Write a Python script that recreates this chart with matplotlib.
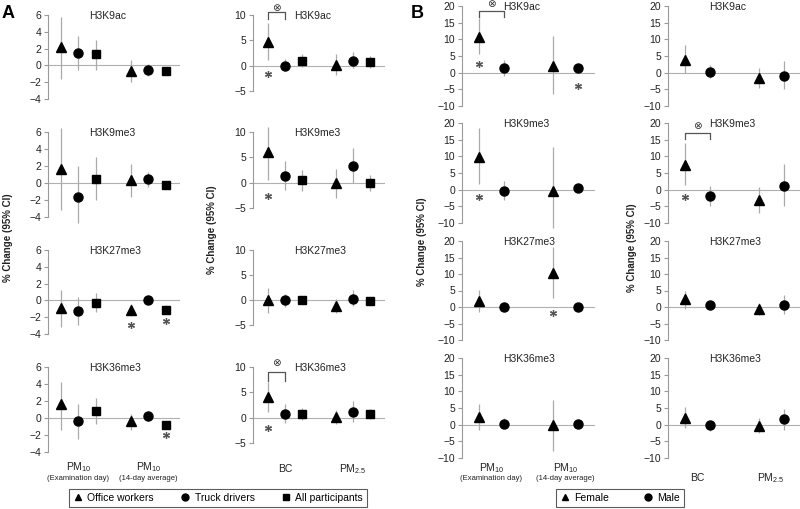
import numpy as np
import matplotlib
matplotlib.use("Agg")
from matplotlib import pyplot as plt
from matplotlib.lines import Line2D

plt.rcParams['font.family'] = ['Liberation Sans', 'DejaVu Sans']
plt.rcParams['mathtext.fontset'] = 'custom'
plt.rcParams['mathtext.rm'] = 'Liberation Sans'
plt.rcParams['mathtext.it'] = 'Liberation Sans:italic'
plt.rcParams['mathtext.default'] = 'regular'

histones = ['H3K9ac', 'H3K9me3', 'H3K27me3', 'H3K36me3']

# Panel A: office workers, truck drivers, all participants (exam day, then 14-day average)
a_pm10_est = [[2.2, 1.5, 1.3, -0.7, -0.5, -0.7],
              [1.6, -1.7, 0.5, 0.3, 0.5, -0.2],
              [-0.9, -1.3, -0.3, -1.2, 0.0, -1.1],
              [1.7, -0.4, 0.8, -0.4, 0.2, -0.8]]
a_pm10_lo = [[-1.6, -0.5, -0.5, -2.0, -1.3, -1.1],
             [-3.2, -4.7, -2.0, -1.7, -0.5, -0.5],
             [-3.2, -2.9, -1.4, -1.9, -0.3, -1.6],
             [-1.4, -2.5, -0.7, -1.4, -0.4, -1.3]]
a_pm10_hi = [[5.8, 3.5, 3.0, 0.6, 0.2, -0.3],
             [6.5, 2.0, 3.1, 2.2, 1.3, 0.1],
             [1.2, 0.4, 0.9, -0.4, 0.3, -0.6],
             [4.2, 1.7, 2.3, 0.5, 0.8, -0.3]]

# Panel A: BC, then PM2.5
a_bc_est = [[4.7, 0.0, 1.0, 0.2, 0.9, 0.7],
            [6.0, 1.4, 0.5, -0.1, 3.2, 0.0],
            [0.0, 0.0, 0.0, -1.1, 0.3, -0.2],
            [4.1, 0.8, 0.8, 0.2, 1.2, 0.8]]
a_bc_lo = [[1.1, -1.0, -0.2, -1.8, -0.5, -0.5],
           [0.5, -1.5, -1.6, -3.0, 0.0, -1.6],
           [-2.5, -1.3, -0.5, -2.5, -1.2, -0.6],
           [1.2, -1.0, -0.5, -1.2, -0.8, -0.3]]
a_bc_hi = [[8.4, 1.4, 2.3, 2.4, 2.6, 1.9],
           [11.0, 4.3, 2.5, 2.7, 6.9, 1.6],
           [2.5, 1.3, 0.5, 0.3, 2.0, 0.2],
           [7.0, 2.7, 1.9, 1.5, 3.3, 1.8]]

# Panel B: female, male (exam day, then 14-day average)
b_pm10_est = [[10.8, 1.3, 2.0, 1.5],
              [9.8, -0.4, -0.5, 0.4],
              [1.8, 0.0, 10.2, 0.0],
              [2.3, 0.3, -0.2, 0.3]]
b_pm10_lo = [[5.7, -1.0, -6.5, 0.5],
             [1.8, -3.0, -11.5, -0.5],
             [-1.5, -0.5, 2.8, -0.5],
             [-1.6, -1.0, -7.8, -0.3]]
b_pm10_hi = [[16.3, 3.8, 11.0, 2.5],
             [18.4, 2.7, 12.9, 1.2],
             [5.3, 0.5, 18.2, 0.5],
             [6.2, 2.0, 7.3, 0.9]]

# Panel B: BC, then PM2.5
b_bc_est = [[3.9, 0.1, -1.5, -0.9],
            [7.5, -2.0, -3.0, 1.0],
            [2.3, 0.7, -0.5, 0.5],
            [2.0, -0.2, -0.3, 1.7]]
b_bc_lo = [[0.0, -1.5, -4.5, -5.0],
           [1.5, -5.0, -7.0, -5.0],
           [-0.5, -1.0, -2.5, -2.0],
           [-1.0, -1.8, -2.5, -1.5]]
b_bc_hi = [[8.2, 2.3, 1.5, 3.5],
           [14.0, 1.2, 0.8, 7.8],
           [4.8, 2.2, 1.2, 3.5],
           [5.2, 0.8, 2.0, 4.7]]

# significance marks: (column, histone, point, y)
stars = [(0, 2, 3, -2.9), (0, 2, 5, -2.4), (0, 3, 5, -2.0),
         (1, 0, 0, -1.6), (1, 1, 0, -2.6), (1, 3, 0, -2.0),
         (2, 0, 0, 2.7), (2, 0, 3, -4.1), (2, 1, 0, -2.2), (2, 2, 2, -1.8),
         (3, 1, 0, -2.2)]
# interaction brackets: (column, histone, bottom, top, symbol y)
brackets = [(1, 0, 9.2, 10.5, 11.4), (1, 3, 7.2, 9.0, 10.8),
            (2, 0, 16.8, 18.5, 20.6), (3, 1, 15.1, 16.9, 19.2)]

a_xpos = [1, 2, 3, 5, 6, 7]
b_xpos = [1, 2, 4, 5]
a_markers = ['^', 'o', 's', '^', 'o', 's']
b_markers = ['^', 'o', '^', 'o']

W, H = 800, 509
fig = plt.figure(figsize=(W / 100, H / 100), dpi=100)

cols = [
    dict(x0=48, x1=180, tops=[15, 132, 250, 367], bots=[99, 217, 334, 452], ylim=(-4, 6),
         ticks=np.arange(-4, 7, 2), est=a_pm10_est, lo=a_pm10_lo, hi=a_pm10_hi,
         xpos=a_xpos, mk=a_markers, xlim=(0.26, 7.8), ylab_x=8, ylab_y=238),
    dict(x0=253, x1=385, tops=[15, 132, 250, 367], bots=[91, 208, 325, 443], ylim=(-5, 10),
         ticks=np.arange(-5, 11, 5), est=a_bc_est, lo=a_bc_lo, hi=a_bc_hi,
         xpos=a_xpos, mk=a_markers, xlim=(0.12, 7.88), ylab_x=212, ylab_y=230),
    dict(x0=462, x1=595, tops=[6, 123, 241, 358], bots=[106, 223, 340, 458], ylim=(-10, 20),
         ticks=np.arange(-10, 21, 5), est=b_pm10_est, lo=b_pm10_lo, hi=b_pm10_hi,
         xpos=b_xpos, mk=b_markers, xlim=(0.31, 5.7), ylab_x=422, ylab_y=242),
    dict(x0=668, x1=802, tops=[6, 123, 241, 358], bots=[106, 223, 340, 458], ylim=(-10, 20),
         ticks=np.arange(-10, 21, 5), est=b_bc_est, lo=b_bc_lo, hi=b_bc_hi,
         xpos=b_xpos, mk=b_markers, xlim=(0.31, 5.75), ylab_x=632, ylab_y=248),
]

grey = '#9a9a9a'
axes = {}
for c, col in enumerate(cols):
    for h, name in enumerate(histones):
        top, bot = col['tops'][h], col['bots'][h]
        ax = fig.add_axes([col['x0'] / W, 1 - bot / H, (col['x1'] - col['x0']) / W, (bot - top) / H])
        axes[(c, h)] = ax
        ax.set_xlim(col['xlim'])
        ax.set_ylim(col['ylim'])
        ax.set_yticks(col['ticks'])
        ax.set_xticks([])
        for s in ['top', 'right', 'bottom']:
            ax.spines[s].set_visible(False)
        ax.spines['left'].set_color(grey)
        ax.spines['left'].set_linewidth(0.8)
        ax.tick_params(axis='y', length=3, width=0.8, color=grey, labelsize=7.5,
                       labelcolor='#222222', pad=2)
        ax.patch.set_alpha(0)
        ax.axhline(0, color='#b0b0b0', lw=0.8, zorder=0)
        xs = col['xpos']
        ax.vlines(xs, col['lo'][h], col['hi'][h], color='#aaaaaa', lw=0.9, clip_on=False, zorder=1)
        for x, y, m in zip(xs, col['est'][h], col['mk']):
            ms = 6 if m == 's' else 6.5
            ax.plot(x, y, marker=m, color='black', ms=ms, ls='none', zorder=3, clip_on=False)
        ax.text(0.31, 0.99, name, transform=ax.transAxes, ha='left', va='center',
                fontsize=7.5, color='#222222')
    fig.text(col['ylab_x'] / W, 1 - col['ylab_y'] / H, '% Change (95% CI)', rotation=90,
             ha='center', va='center', fontsize=7, fontweight='bold', color='#222222')

for c, h, p, y in stars:
    ax = axes[(c, h)]
    ax.plot(cols[c]['xpos'][p], y, marker=(6, 2, 0), ms=5, mew=0.9, color='#555555',
            ls='none', clip_on=False)

for c, h, yb, yt, ys in brackets:
    ax = axes[(c, h)]
    xa, xb = cols[c]['xpos'][0], cols[c]['xpos'][1]
    ax.plot([xa, xa, xb, xb], [yb, yt, yt, yb], color='#555555', lw=0.9, clip_on=False)
    ax.text((xa + xb) / 2, ys, '\u2297', family='DejaVu Sans', fontsize=7.5,
            ha='center', va='center', color='#333333')

# exposure labels under the bottom panels
def xlab(c, xdata, y_px, s, size):
    ax = axes[(c, 3)]
    xf = ax.transData.transform((xdata, 0))[0] / W
    fig.text(xf, 1 - y_px / H, s, ha='center', va='center', fontsize=size, color='#222222')

for c, xa, xb, y1, y2 in [(0, 2, 6, 467, 478), (2, 1.5, 4.5, 468, 479)]:
    xlab(c, xa, y1, 'PM$_{10}$', 7.5)
    xlab(c, xa, y2, '(Examination day)', 5.5)
    xlab(c, xb, y1, 'PM$_{10}$', 7.5)
    xlab(c, xb, y2, '(14-day average)', 5.5)
xlab(1, 2, 469, 'BC', 7.5)
xlab(1, 6, 469, 'PM$_{2.5}$', 7.5)
xlab(3, 1.5, 478, 'BC', 7.5)
xlab(3, 4.5, 478, 'PM$_{2.5}$', 7.5)

fig.text(2 / W, 1 - 14 / H, 'A', fontsize=13, fontweight='bold', va='center', ha='left')
fig.text(411 / W, 1 - 14 / H, 'B', fontsize=13, fontweight='bold', va='center', ha='left')

def legend(labels, markers, cx, spacing):
    handles = [Line2D([], [], marker=m, color='black', ls='none', ms=5) for m in markers]
    leg = fig.legend(handles, labels, ncol=len(labels), loc='center',
                     bbox_to_anchor=(cx / W, 1 - 498 / H), fontsize=7.5, frameon=True,
                     fancybox=False, edgecolor='#333333', columnspacing=spacing,
                     handlelength=1.0, handletextpad=0.4, borderpad=0.35, borderaxespad=0)
    leg.get_frame().set_linewidth(0.8)

legend(['Office workers', 'Truck drivers', 'All participants'], ['^', 'o', 's'], 218, 2.5)
legend(['Female', 'Male'], ['^', 'o'], 620, 3.2)

fig.savefig('out.png', dpi=100)
